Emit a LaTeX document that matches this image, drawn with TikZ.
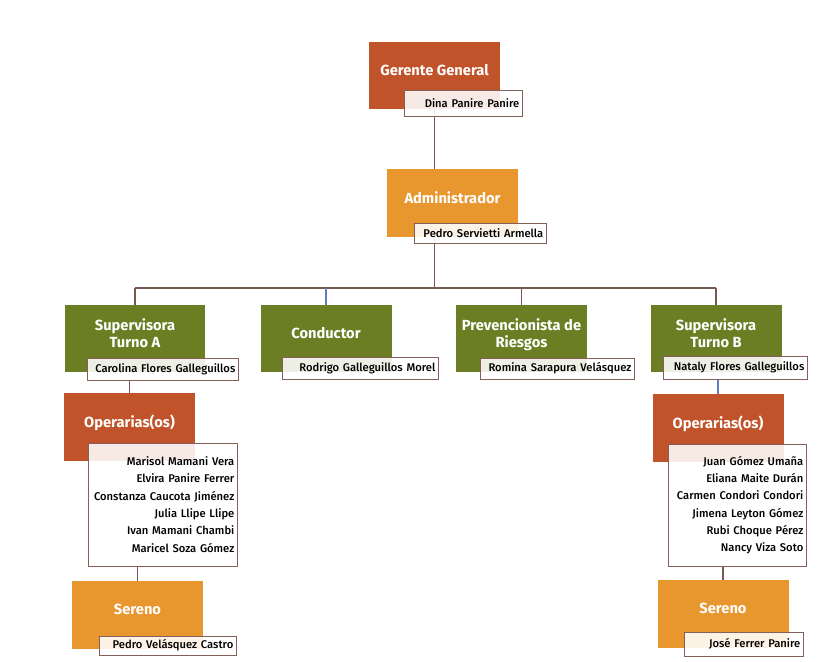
\documentclass[tikz,border=0pt]{standalone}
\usepackage{fontspec}
\setmainfont{Fira Sans}
\IfFontExistsTF{Fira Sans Medium}{\newfontfamily\nomfont{Fira Sans Medium}}{\newfontfamily\nomfont{Fira Sans}}
\usetikzlibrary{backgrounds}

\definecolor{rojizo}{RGB}{192,83,42}
\definecolor{naranjo}{RGB}{232,150,46}
\definecolor{verde}{RGB}{107,126,36}
\definecolor{borde}{RGB}{135,95,90}
\definecolor{linea}{RGB}{120,88,82}
\definecolor{lineaazul}{RGB}{95,125,185}

\tikzstyle{cargo} = [
    rectangle,
    minimum width=98.25pt, minimum height=50.6pt,
    text centered, align=center, text depth=8pt,
    text=white, font=\bfseries\fontsize{11}{13}\selectfont
]
\tikzstyle{rojo} = [cargo, fill=rojizo]
\tikzstyle{naranja} = [cargo, fill=naranjo]
\tikzstyle{area} = [cargo, fill=verde]
\tikzstyle{nombre} = [
    rectangle,
    inner xsep=2pt, inner ysep=1pt,
    align=right, text=black,
    font=\nomfont\fontsize{8.4}{13}\selectfont,
    draw=borde, fill=white, fill opacity=0.88, text opacity=1
]
\tikzstyle{conector} = [draw=linea, line width=0.9pt]

\begin{document}
\begin{tikzpicture}[x=0.75pt, y=-0.75pt]
        \useasboundingbox (0,0) rectangle (837,661);

        % Cargos
        \node (ger) [rojo] at (434.5,75.5) {Gerente General};
        \node (adm) [naranja] at (452.5,203) {Administrador};
        \node (supA) [area, minimum width=105pt] at (135,338.5) {Supervisora\\Turno A};
        \node (cond) [area] at (326,338.5) {Conductor};
        \node (prev) [area] at (521.5,338.5) {Prevencionista de\\Riesgos};
        \node (supB) [area] at (716,338.5) {Supervisora\\Turno B};
        \node (opA) [rojo] at (129.5,427) {Operarias(os)};
        \node (opB) [rojo] at (718,428) {Operarias(os)};
        \node (serA) [naranja] at (137.5,615) {Sereno};
        \node (serB) [naranja] at (723,614) {Sereno};

        % Nombres
        \node (gerN) [nombre, text width=84.5pt, minimum height=19.5pt] at (463,103) {Dina Panire Panire};
        \node (admN) [nombre, text width=95pt, minimum height=15pt] at (480,233) {Pedro Servietti Armella};
        \node (supAN) [nombre, text width=109.25pt, minimum height=16.5pt] at (162.5,369) {Carolina Flores Galleguillos};
        \node (condN) [nombre, text width=113pt, minimum height=16.5pt] at (360,368) {Rodrigo Galleguillos Morel};
        \node (prevN) [nombre, text width=111.5pt, minimum height=15.75pt] at (557,368.5) {Romina Sarapura Velásquez};
        \node (supBN) [nombre, text width=104pt, minimum height=17pt] at (735,367.5) {Nataly Flores Galleguillos};
        \node (opAN) [nombre, text width=107.75pt, minimum height=92.25pt] at (162.5,504.5) {Marisol Mamani Vera\\Elvira Panire Ferrer\\Constanza Caucota Jiménez\\Julia Llipe Llipe\\Ivan Mamani Chambi\\Maricel Soza Gómez};
        \node (opBN) [nombre, text width=99.5pt, minimum height=91.5pt] at (737,505) {Juan Gómez Umaña\\Eliana Maite Durán\\Carmen Condori Condori\\Jimena Leyton Gómez\\Rubi Choque Pérez\\Nancy Viza Soto};
        \node (serAN) [nombre, text width=98.75pt, minimum height=14.25pt] at (167.5,645.5) {Pedro Velásquez Castro};
        \node (serBN) [nombre, text width=85.25pt, minimum height=18pt] at (743.5,644) {José Ferrer Panire};

        % Lineas
        \begin{pgfonlayer}{background}
        \coordinate (bus) at (ger.south |- 0,288);
        \draw [conector] (ger) -- (ger |- adm.north);
        \draw [conector] (ger |- adm.south) -- (bus);
        \draw [conector] (bus -| supA) -- (bus -| supB);
        \draw [conector] (bus -| supA) -- (supA);
        \draw [conector, draw=lineaazul] (bus -| cond) -- (cond);
        \draw [conector] (bus -| prev) -- (prev);
        \draw [conector] (bus -| supB) -- (supB);
        \draw [conector] (opA |- supAN.south) -- (opA);
        \draw [conector, draw=lineaazul] (opB |- supBN.south) -- (opB);
        \draw [conector] (serA |- opAN.south) -- (serA);
        \draw [conector] (serB |- opBN.south) -- (serB);
        \end{pgfonlayer}
    \end{tikzpicture}
\end{document}
